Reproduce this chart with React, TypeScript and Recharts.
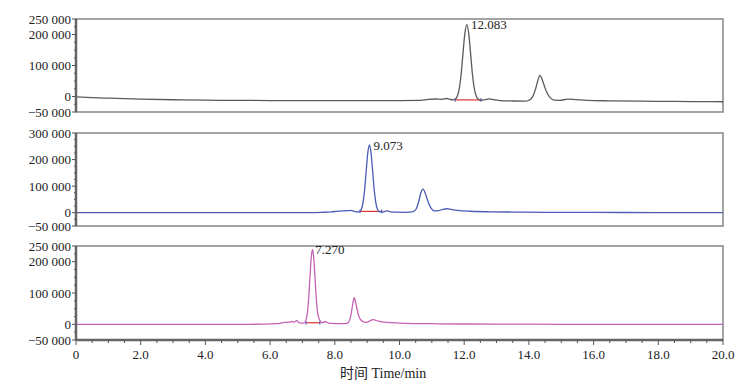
import { LineChart, Line, XAxis, YAxis, ReferenceArea, ReferenceLine, ReferenceDot } from 'recharts';

// trace 1 (top, grey)
const timeTop = [0, 0.5, 1, 2, 3, 4, 5, 6, 7, 8, 9, 10, 10.6, 10.9, 11.1, 11.3, 11.45, 11.55, 11.66, 11.72, 11.78, 11.84, 11.9, 11.96, 12.02, 12.083, 12.14, 12.2, 12.26, 12.32, 12.38, 12.44, 12.52, 12.65, 12.78, 12.9, 13.1, 13.5, 13.9, 14.0, 14.06, 14.14, 14.2, 14.26, 14.34, 14.42, 14.5, 14.58, 14.68, 14.8, 14.95, 15.2, 15.45, 15.8, 16.5, 17.5, 18.5, 19.5, 20];
const signalTop = [-1000, -3500, -5500, -8500, -10500, -12000, -12500, -13000, -13000, -13000, -13000, -13000, -12500, -9000, -8000, -9000, -6500, -9000, -11000, -9000, -1000, 21000, 67000, 136000, 203000, 232000, 203000, 136000, 67000, 21000, -1000, -9000, -12500, -10000, -7500, -10000, -13000, -14500, -15000, -12000, -8000, 5000, 22000, 45000, 68000, 52000, 27000, 8000, -6000, -12000, -12500, -8500, -10000, -12500, -14000, -15000, -16000, -16500, -17000];

// trace 2 (middle, blue)
const timeMid = [0, 2, 4, 6, 7, 7.6, 7.9, 8.1, 8.25, 8.4, 8.5, 8.6, 8.72, 8.77, 8.82, 8.87, 8.92, 8.97, 9.02, 9.073, 9.12, 9.17, 9.22, 9.27, 9.32, 9.37, 9.45, 9.55, 9.62, 9.72, 9.9, 10.2, 10.42, 10.52, 10.6, 10.66, 10.73, 10.8, 10.88, 10.97, 11.08, 11.2, 11.32, 11.46, 11.62, 11.85, 12.2, 12.8, 13.5, 14.5, 16, 18, 20];
const signalMid = [0, 0, 0, 0, 500, 1500, 3000, 6000, 7000, 7500, 9000, 5000, 3000, 4000, 13000, 36000, 84000, 156000, 225000, 255000, 225000, 156000, 84000, 36000, 13000, 4000, 2500, 5000, 7000, 3500, 2000, 1500, 4000, 15000, 45000, 75000, 89000, 72000, 42000, 18000, 7000, 8000, 12000, 15000, 12000, 8000, 5500, 3500, 2500, 1500, 1000, 500, 0];

// trace 3 (bottom, pink)
const timeLow = [0, 2, 4, 5, 5.8, 6.2, 6.45, 6.6, 6.68, 6.75, 6.82, 6.9, 7.0, 7.07, 7.11, 7.15, 7.19, 7.23, 7.27, 7.31, 7.35, 7.39, 7.43, 7.47, 7.53, 7.62, 7.7, 7.8, 8.0, 8.3, 8.42, 8.5, 8.55, 8.6, 8.66, 8.73, 8.82, 8.95, 9.05, 9.18, 9.35, 9.6, 10, 11, 12, 14, 16, 18, 20];
const signalLow = [0, 0, 0, 0, 500, 2000, 6000, 7000, 9000, 7000, 12000, 5000, 4000, 6000, 14000, 36000, 80000, 147000, 211000, 239000, 211000, 147000, 80000, 36000, 14000, 5000, 9000, 4000, 2500, 2000, 6000, 30000, 62000, 85000, 62000, 30000, 12000, 6000, 9000, 15000, 10000, 6000, 4000, 2000, 1000, 500, 0, 0, 0];

const peakTimes = [12.083, 9.073, 7.27];
const peakValues = [232000, 255000, 239000];
const peakLabels = ['12.083', '9.073', '7.270'];
const integStart = [11.72, 8.78, 7.11];
const integEnd = [12.52, 9.45, 7.54];
const integLevel = [-11000, 5000, 5000];

const yDomains = [[-50000, 250000], [-50000, 300000], [-50000, 250000]];
const yMajor = [[-50000, 0, 100000, 200000, 250000], [-50000, 0, 100000, 200000, 300000], [-50000, 0, 100000, 200000, 250000]];
const xMinorTicks = [0, 0.5, 1, 1.5, 2, 2.5, 3, 3.5, 4, 4.5, 5, 5.5, 6, 6.5, 7, 7.5, 8, 8.5, 9, 9.5, 10, 10.5, 11, 11.5, 12, 12.5, 13, 13.5, 14, 14.5, 15, 15.5, 16, 16.5, 17, 17.5, 18, 18.5, 19, 19.5, 20];
const xMajorTicks = [0, 2, 4, 6, 8, 10, 12, 14, 16, 18, 20];

const colors = ['#5a5a5a', '#4a5cb4', '#c462b4'];
const FONT = '"Liberation Serif", "DejaVu Serif", serif';

const fmtY = (v: number) => {
  const s = Math.abs(v).toString().replace(/\B(?=(\d{3})+(?!\d))/g, ' ');
  return v < 0 ? '\u2212' + s : s;
};

const YTick = (props: any) => {
  const { x, y, payload, major } = props;
  const isMajor = major.includes(payload.value);
  return (
    <g>
      <line x1={x - (isMajor ? 4 : 2)} x2={x} y1={y} y2={y} stroke="#555" strokeWidth={1} />
      {isMajor && (
        <text x={x - 5} y={y} textAnchor="end" dominantBaseline="central" fontFamily={FONT} fontSize={13} fill="#222">
          {fmtY(payload.value)}
        </text>
      )}
    </g>
  );
};

const XTick = (props: any) => {
  const { x, y, payload } = props;
  const isMajor = xMajorTicks.includes(payload.value);
  return (
    <g>
      <line x1={x} x2={x} y1={y} y2={y + (isMajor ? 5 : 3)} stroke="#555" strokeWidth={1} />
      {isMajor && (
        <text x={x} y={y + 14} textAnchor="middle" dominantBaseline="central" fontFamily={FONT} fontSize={13} fill="#222">
          {payload.value === 0 ? '0' : payload.value.toFixed(1)}
        </text>
      )}
    </g>
  );
};

const minorY = (dom: number[]) => {
  const out: number[] = [];
  for (let v = dom[0]; v <= dom[1]; v += 25000) out.push(v);
  return out;
};

const Panel = ({ idx, times, values, showX }: { idx: number; times: number[]; values: number[]; showX?: boolean }) => {
  const data = times.map((t, i) => ({ t, v: values[i] }));
  const dom = yDomains[idx];
  const h = showX ? 160 : 120;
  const tickH = (dom[1] - dom[0]) * 0.02;
  return (
    <LineChart width={755} height={h} data={data} margin={{ top: 19, right: 32, bottom: showX ? 17 : 8, left: 0 }}>
      <ReferenceArea x1={0} x2={20} y1={dom[0]} y2={dom[1]} fill="none" stroke="#858585" strokeWidth={1.5} />
      <XAxis
        dataKey="t"
        type="number"
        domain={[0, 20]}
        ticks={xMinorTicks}
        hide={!showX}
        height={30}
        tickSize={0}
        tickMargin={0}
        interval={0}
        axisLine={{ stroke: '#666', strokeWidth: 2.5 }}
        tick={(p: any) => <XTick {...p} />}
      />
      <YAxis
        type="number"
        domain={dom}
        ticks={minorY(dom)}
        width={76}
        interval={0}
        tickSize={0}
        tickMargin={0}
        axisLine={{ stroke: '#666', strokeWidth: 2.5 }}
        tick={(p: any) => <YTick {...p} major={yMajor[idx]} />}
      />
      <ReferenceLine
        segment={[{ x: integStart[idx], y: integLevel[idx] }, { x: integEnd[idx], y: integLevel[idx] }]}
        stroke="#e03030"
        strokeWidth={1.2}
      />
      <ReferenceLine
        segment={[{ x: integStart[idx], y: integLevel[idx] - tickH }, { x: integStart[idx], y: integLevel[idx] + tickH }]}
        stroke="#3a50c0"
      />
      <ReferenceLine
        segment={[{ x: integEnd[idx], y: integLevel[idx] - tickH }, { x: integEnd[idx], y: integLevel[idx] + tickH }]}
        stroke="#3a50c0"
      />
      <Line type="monotone" dataKey="v" stroke={colors[idx]} strokeWidth={1.3} dot={false} isAnimationActive={false} />
      <ReferenceDot
        x={peakTimes[idx]}
        y={peakValues[idx]}
        r={0}
        stroke="none"
        label={{ value: peakLabels[idx], position: 'right', offset: 4, fontFamily: FONT, fontSize: 13, fill: '#222' }}
      />
    </LineChart>
  );
};

export default function App() {
  return (
    <div style={{ position: 'absolute', left: 0, top: 0, width: 755, height: 387, background: '#fff' }}>
      <div style={{ position: 'absolute', left: 0, top: 0 }}>
        <Panel idx={0} times={timeTop} values={signalTop} />
      </div>
      <div style={{ position: 'absolute', left: 0, top: 114 }}>
        <Panel idx={1} times={timeMid} values={signalMid} />
      </div>
      <div style={{ position: 'absolute', left: 0, top: 227 }}>
        <Panel idx={2} times={timeLow} values={signalLow} showX />
      </div>
      <div
        style={{
          position: 'absolute',
          left: 340,
          top: 362,
          fontFamily: '"Liberation Serif", "Noto Sans CJK SC", serif',
          fontSize: 14,
          color: '#222',
          whiteSpace: 'nowrap',
        }}
      >
        时间 Time/min
      </div>
    </div>
  );
}
